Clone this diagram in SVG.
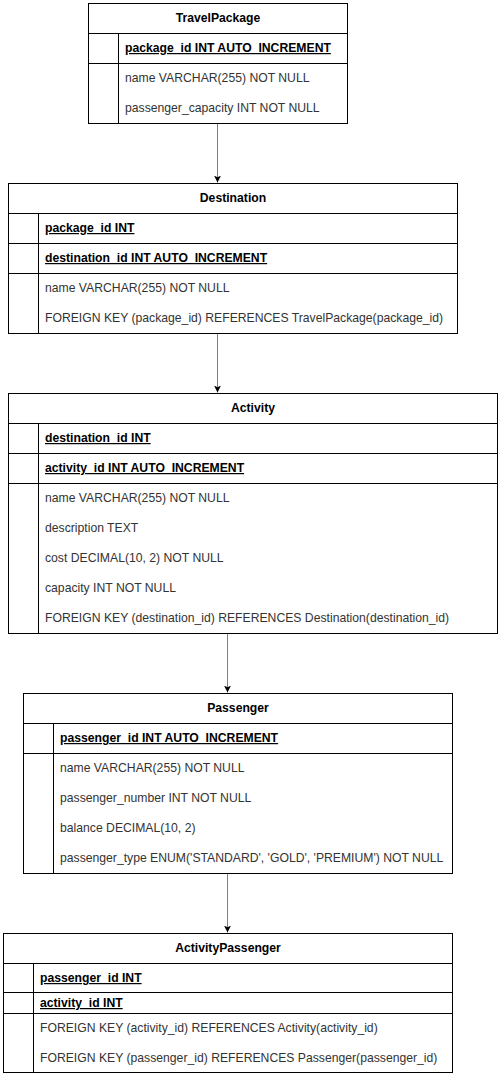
<svg xmlns="http://www.w3.org/2000/svg" width="500" height="1075" viewBox="0 0 500 1075">
<style>
.box{fill:#fff;stroke:#000;stroke-width:1}
.ln{stroke:#000;stroke-width:1;fill:none}
.hd{font-family:"Liberation Sans",Arial,sans-serif;font-size:12.2px;font-weight:bold;fill:#000;text-anchor:middle}
.pk{font-family:"Liberation Sans",Arial,sans-serif;font-size:12.2px;font-weight:bold;fill:#000;text-decoration:underline}
.tx{font-family:"Liberation Sans",Arial,sans-serif;font-size:12.2px;fill:#333}
.edge{stroke:#808080;stroke-width:1;fill:none}
</style>
<defs>
<marker id="arr" markerWidth="8" markerHeight="8" refX="7" refY="4" orient="auto" markerUnits="userSpaceOnUse">
<path d="M0,0.5 L7,4 L0,7.5 L1.8,4 Z" fill="#000"/>
</marker>
</defs>
<rect width="500" height="1075" fill="#fff"/>
<g id="connectors">
<line class="edge" x1="217.5" y1="123.5" x2="217.5" y2="182.5" marker-end="url(#arr)"/>
<line class="edge" x1="217.5" y1="333.5" x2="217.5" y2="392.5" marker-end="url(#arr)"/>
<line class="edge" x1="227.5" y1="633.5" x2="227.5" y2="692.5" marker-end="url(#arr)"/>
<line class="edge" x1="227.5" y1="873.5" x2="227.5" y2="932.5" marker-end="url(#arr)"/>
</g>
<g id="TravelPackage">
<rect class="box" x="88.5" y="3.5" width="259" height="120"/>
<line class="ln" x1="88.5" y1="33.5" x2="347.5" y2="33.5"/>
<line class="ln" x1="88.5" y1="63.5" x2="347.5" y2="63.5"/>
<line class="ln" x1="118.5" y1="33.5" x2="118.5" y2="123.5"/>
<text class="hd" x="218" y="22">TravelPackage</text>
<text class="pk" x="125" y="52">package_id INT AUTO_INCREMENT</text>
<text class="tx" x="125" y="82">name VARCHAR(255) NOT NULL</text>
<text class="tx" x="125" y="112">passenger_capacity INT NOT NULL</text>
</g>
<g id="Destination">
<rect class="box" x="8.5" y="183.5" width="449" height="150"/>
<line class="ln" x1="8.5" y1="213.5" x2="457.5" y2="213.5"/>
<line class="ln" x1="8.5" y1="243.5" x2="457.5" y2="243.5"/>
<line class="ln" x1="8.5" y1="273.5" x2="457.5" y2="273.5"/>
<line class="ln" x1="38.5" y1="213.5" x2="38.5" y2="333.5"/>
<text class="hd" x="233" y="202">Destination</text>
<text class="pk" x="45" y="232">package_id INT</text>
<text class="pk" x="45" y="262">destination_id INT AUTO_INCREMENT</text>
<text class="tx" x="45" y="292">name VARCHAR(255) NOT NULL</text>
<text class="tx" x="45" y="322">FOREIGN KEY (package_id) REFERENCES TravelPackage(package_id)</text>
</g>
<g id="Activity">
<rect class="box" x="8.5" y="393.5" width="489" height="240"/>
<line class="ln" x1="8.5" y1="423.5" x2="497.5" y2="423.5"/>
<line class="ln" x1="8.5" y1="453.5" x2="497.5" y2="453.5"/>
<line class="ln" x1="8.5" y1="483.5" x2="497.5" y2="483.5"/>
<line class="ln" x1="38.5" y1="423.5" x2="38.5" y2="633.5"/>
<text class="hd" x="253" y="412">Activity</text>
<text class="pk" x="45" y="442">destination_id INT</text>
<text class="pk" x="45" y="472">activity_id INT AUTO_INCREMENT</text>
<text class="tx" x="45" y="502">name VARCHAR(255) NOT NULL</text>
<text class="tx" x="45" y="532">description TEXT</text>
<text class="tx" x="45" y="562">cost DECIMAL(10, 2) NOT NULL</text>
<text class="tx" x="45" y="592">capacity INT NOT NULL</text>
<text class="tx" x="45" y="622">FOREIGN KEY (destination_id) REFERENCES Destination(destination_id)</text>
</g>
<g id="Passenger">
<rect class="box" x="23.5" y="693.5" width="429" height="180"/>
<line class="ln" x1="23.5" y1="723.5" x2="452.5" y2="723.5"/>
<line class="ln" x1="23.5" y1="753.5" x2="452.5" y2="753.5"/>
<line class="ln" x1="53.5" y1="723.5" x2="53.5" y2="873.5"/>
<text class="hd" x="238" y="712">Passenger</text>
<text class="pk" x="60" y="742">passenger_id INT AUTO_INCREMENT</text>
<text class="tx" x="60" y="772">name VARCHAR(255) NOT NULL</text>
<text class="tx" x="60" y="802">passenger_number INT NOT NULL</text>
<text class="tx" x="60" y="832">balance DECIMAL(10, 2)</text>
<text class="tx" x="60" y="862">passenger_type ENUM('STANDARD', 'GOLD', 'PREMIUM') NOT NULL</text>
</g>
<g id="ActivityPassenger">
<rect class="box" x="3.5" y="933.5" width="449" height="139"/>
<line class="ln" x1="3.5" y1="963.5" x2="452.5" y2="963.5"/>
<line class="ln" x1="3.5" y1="992.5" x2="452.5" y2="992.5"/>
<line class="ln" x1="3.5" y1="1013.5" x2="452.5" y2="1013.5"/>
<line class="ln" x1="33.5" y1="963.5" x2="33.5" y2="1072.5"/>
<text class="hd" x="228" y="952">ActivityPassenger</text>
<text class="pk" x="40" y="982">passenger_id INT</text>
<text class="pk" x="40" y="1007">activity_id INT</text>
<text class="tx" x="40" y="1032">FOREIGN KEY (activity_id) REFERENCES Activity(activity_id)</text>
<text class="tx" x="40" y="1062">FOREIGN KEY (passenger_id) REFERENCES Passenger(passenger_id)</text>
</g>
</svg>
